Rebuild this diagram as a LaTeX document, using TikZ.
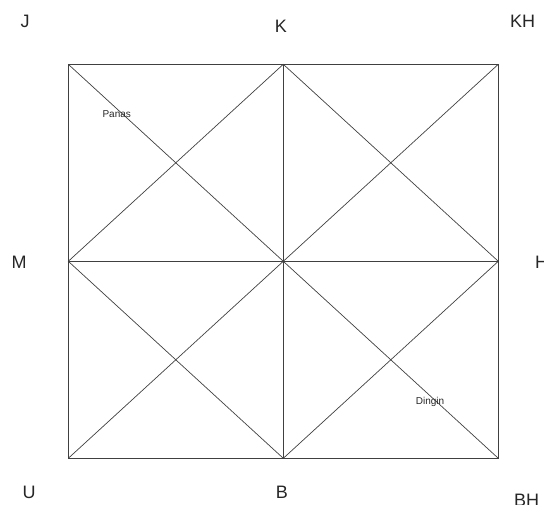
\documentclass[tikz,border=0pt]{standalone}
\usepackage{fontspec}
\setmainfont{Liberation Sans}
\usetikzlibrary{positioning}
\begin{document}
\begin{tikzpicture}[x=1pt,y=-1pt]
\tikzstyle{every node}=[font=\fontsize{18}{20}\selectfont, text=black!85]
\tikzstyle{kecil}=[font=\fontsize{10}{12}\selectfont]
\tikzstyle{garis}=[line width=0.7pt, draw=black!75]
\useasboundingbox (0,0) rectangle (544,505);
% titik sudut dan tengah kotak
\coordinate (nw) at (68.3,64.3);
\coordinate (n) at (283.3,64.3);
\coordinate (ne) at (498.3,64.3);
\coordinate (w) at (68.3,261.3);
\coordinate (c) at (283.3,261.3);
\coordinate (e) at (498.3,261.3);
\coordinate (sw) at (68.3,458.3);
\coordinate (s) at (283.3,458.3);
\coordinate (se) at (498.3,458.3);
% garis
\draw[garis] (nw) rectangle (se);
\draw[garis] (n) -- (s);
\draw[garis] (w) -- (e);
\draw[garis] (nw) -- (se);
\draw[garis] (ne) -- (sw);
\draw[garis] (n) -- (w) -- (s) -- (e) -- cycle;
% label arah
\node (J) at (25,21.7) {J};
\node (K) at (281,26.7) {K};
\node (KH) at (522.7,21.7) {KH};
\node (M) at (19,262) {M};
\node (H) at (541.5,262) {H};
\node (U) at (29,492.7) {U};
\node (B) at (282,492.7) {B};
\node (BH) at (526.7,500) {BH};
\node[kecil] (panas) at (116.7,114) {Panas};
\node[kecil] (dingin) at (430,401.5) {Dingin};
\end{tikzpicture}
\end{document}
